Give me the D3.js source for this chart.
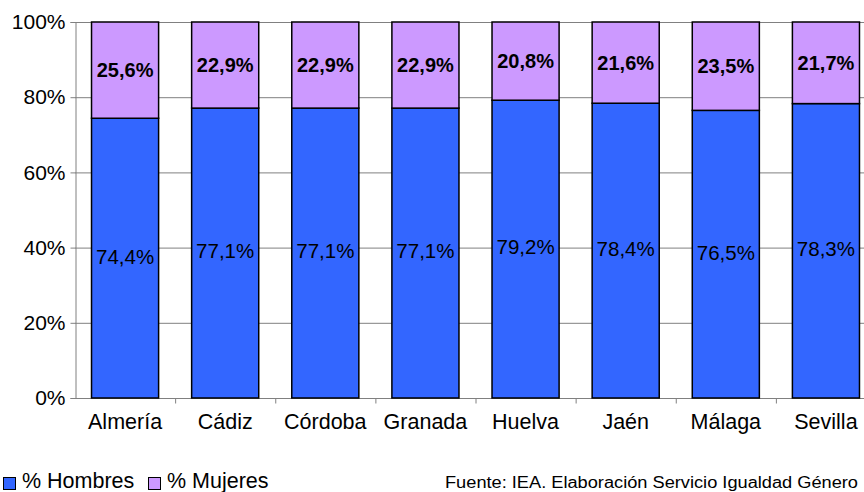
<!DOCTYPE html>
<html>
<head>
<meta charset="utf-8">
<script src="https://cdn.jsdelivr.net/npm/d3@7"></script>
<style>
  html, body { margin: 0; padding: 0; background: #fff; }
  svg { display: block; font-family: "Liberation Sans", Arial, sans-serif; }
</style>
</head>
<body>
<svg id="chart" width="864" height="492"></svg>
<script>
// Provincias y porcentajes por sexo
const provincias = ["Almería", "Cádiz", "Córdoba", "Granada", "Huelva", "Jaén", "Málaga", "Sevilla"];
const hombres = [74.4, 77.1, 77.1, 77.1, 79.2, 78.4, 76.5, 78.3];
const mujeres = [25.6, 22.9, 22.9, 22.9, 20.8, 21.6, 23.5, 21.7];
const yTicks = [0, 20, 40, 60, 80, 100];
const seriesNames = ["% Hombres", "% Mujeres"];
const colores = ["#3366FF", "#CC99FF"];
const fuente = "Fuente: IEA. Elaboración Servicio Igualdad Género";

const svg = d3.select("#chart");
const plotLeft = 75, plotRight = 876, plotTop = 22, plotBottom = 398;

const x = d3.scaleBand().domain(provincias).range([plotLeft, plotRight]).paddingInner(0.33).paddingOuter(0.165);
const y = d3.scaleLinear().domain([0, 100]).range([plotBottom, plotTop]);
const fmt = v => d3.format(".1f")(v).replace(".", ",") + "%";

// Horizontal gridlines
svg.append("g").selectAll("line").data(yTicks.filter(t => t > 0)).join("line")
  .attr("x1", plotLeft).attr("x2", 864)
  .attr("y1", d => y(d) + 0.5).attr("y2", d => y(d) + 0.5)
  .attr("stroke", "#808080").attr("stroke-width", 1);

// Y axis
const yAxis = svg.append("g").attr("transform", `translate(${plotLeft + 0.5},0)`)
  .call(d3.axisLeft(y).tickValues(yTicks).tickSize(5).tickPadding(5).tickFormat(d => d + "%"));
yAxis.select(".domain").attr("stroke", "#808080");
yAxis.selectAll(".tick line").attr("stroke", "#808080");
yAxis.selectAll("text").attr("font-size", 21).attr("fill", "#000")
  .attr("font-family", "'Liberation Sans', Arial, sans-serif");

// X axis with ticks between categories
const xAxisG = svg.append("g").attr("transform", `translate(0,${plotBottom + 0.5})`);
xAxisG.append("line").attr("x1", plotLeft).attr("x2", 864).attr("stroke", "#808080");
const step = x.step();
xAxisG.selectAll("line.tk").data(d3.range(1, provincias.length)).join("line")
  .attr("class", "tk")
  .attr("x1", i => plotLeft + i * step + 0.5).attr("x2", i => plotLeft + i * step + 0.5)
  .attr("y1", 0).attr("y2", 5).attr("stroke", "#808080");
svg.append("g").selectAll("text").data(provincias).join("text")
  .attr("x", d => x(d) + x.bandwidth() / 2)
  .attr("y", 429)
  .attr("text-anchor", "middle")
  .attr("font-size", 21.5)
  .text(d => d);

// Stacked bars
const filas = provincias.map((p, i) => ({ p, h: hombres[i], m: mujeres[i] }));
const barras = svg.append("g");
barras.selectAll("rect.h").data(filas).join("rect")
  .attr("class", "h")
  .attr("x", d => x(d.p)).attr("width", x.bandwidth())
  .attr("y", d => y(d.h)).attr("height", d => y(0) - y(d.h))
  .attr("fill", colores[0]).attr("stroke", "#000").attr("stroke-width", 1.5);
barras.selectAll("rect.m").data(filas).join("rect")
  .attr("class", "m")
  .attr("x", d => x(d.p)).attr("width", x.bandwidth())
  .attr("y", d => y(d.h + d.m)).attr("height", d => y(d.h) - y(d.h + d.m))
  .attr("fill", colores[1]).attr("stroke", "#000").attr("stroke-width", 1.5);

// Value labels
svg.append("g").selectAll("text").data(filas).join("text")
  .attr("x", d => x(d.p) + x.bandwidth() / 2)
  .attr("y", d => (y(0) + y(d.h)) / 2 - 2)
  .attr("dy", "0.36em")
  .attr("text-anchor", "middle").attr("font-size", 20.5)
  .text(d => fmt(d.h));
svg.append("g").selectAll("text").data(filas).join("text")
  .attr("x", d => x(d.p) + x.bandwidth() / 2)
  .attr("y", d => (y(d.h) + y(d.h + d.m)) / 2)
  .attr("dy", "0.36em")
  .attr("text-anchor", "middle").attr("font-size", 20).attr("font-weight", "bold")
  .text(d => fmt(d.m));

// Legend
const leyenda = svg.append("g");
const legX = [3, 148];
seriesNames.forEach((n, i) => {
  leyenda.append("rect").attr("x", legX[i] + 0.5).attr("y", 477.5).attr("width", 12).attr("height", 12)
    .attr("fill", colores[i]).attr("stroke", "#000").attr("stroke-width", 1);
  leyenda.append("text").attr("x", legX[i] + 19).attr("y", 488).attr("font-size", 21.5).text(n);
});

// Source note
svg.append("text").attr("x", 445).attr("y", 488).attr("font-size", 16)
  .attr("textLength", 413).attr("lengthAdjust", "spacingAndGlyphs")
  .text(fuente);
</script>
</body>
</html>
